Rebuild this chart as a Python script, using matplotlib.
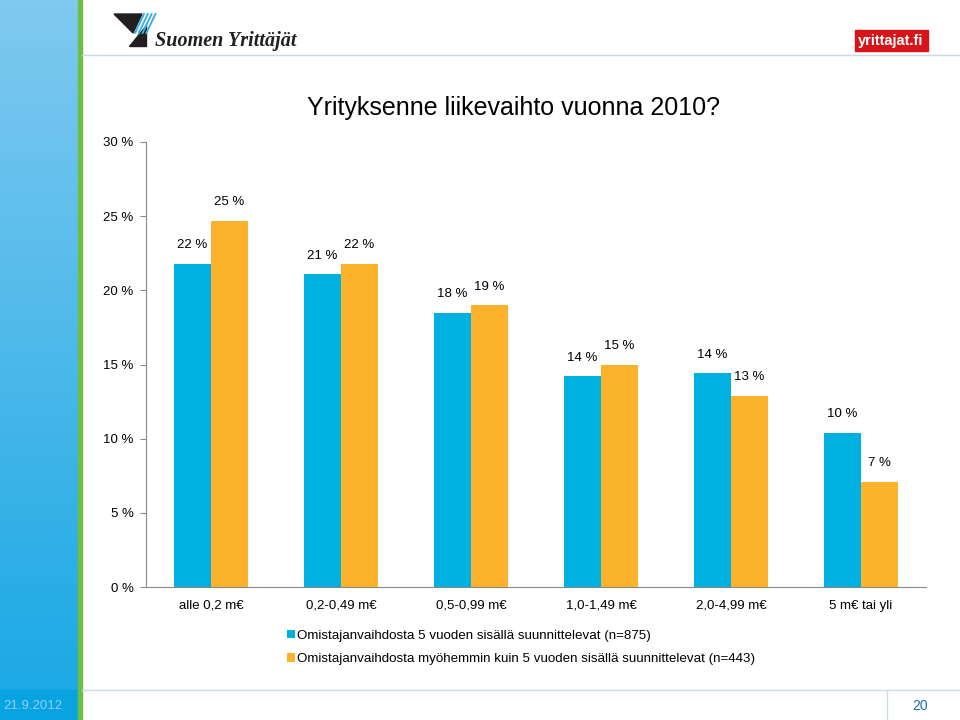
import numpy as np
import matplotlib.pyplot as plt
from matplotlib.patches import Rectangle, Polygon

categories = ["alle 0,2 m€", "0,2-0,49 m€", "0,5-0,99 m€", "1,0-1,49 m€", "2,0-4,99 m€", "5 m€ tai yli"]
within5 = [21.8, 21.1, 18.5, 14.2, 14.4, 10.4]
later = [24.7, 21.8, 19.0, 15.0, 12.9, 7.1]
labels5 = ["22 %", "21 %", "18 %", "14 %", "14 %", "10 %"]
labels_later = ["25 %", "22 %", "19 %", "15 %", "13 %", "7 %"]
series_names = ["Omistajanvaihdosta 5 vuoden sisällä suunnittelevat (n=875)",
                "Omistajanvaihdosta myöhemmin kuin 5 vuoden sisällä suunnittelevat (n=443)"]

blue = "#00B0E0"
orange = "#FDB22B"

plt.rcParams['font.family'] = ['Liberation Sans', 'DejaVu Sans']

fig = plt.figure(figsize=(9.6, 7.2), dpi=100, facecolor='white')

# slide decoration, drawn in pixel coords
bg = fig.add_axes([0, 0, 1, 1], zorder=0)
bg.set_xlim(0, 960)
bg.set_ylim(720, 0)
bg.axis('off')
grad = np.linspace(0, 1, 256).reshape(-1, 1)
bg.imshow(grad, extent=(0, 78, 690, 0), aspect='auto',
          cmap=plt.matplotlib.colors.LinearSegmentedColormap.from_list('s', ["#80C9F0", "#1CA9E5"]))
bg.add_patch(Rectangle((0, 690), 78, 30, color="#0AA3E2"))
bg.add_patch(Rectangle((78, 0), 4, 720, color="#6CBE45"))
bg.plot([82, 960], [55, 55], color="#C8D8E4", lw=1)
bg.plot([82, 960], [690, 690], color="#C8DEE2", lw=1)
bg.plot([887, 887], [690, 720], color="#C8DEE2", lw=1)
bg.text(3, 706, "21.9.2012", color="#8FD0F2", fontsize=9.5, va='center', ha='left')
bg.text(920, 706, "20", color="#1F6FA8", fontsize=10, va='center', ha='center')

# logos
bg.add_patch(Polygon([(114, 14), (142, 14), (133, 33)], color="#231F20"))
bg.add_patch(Polygon([(129, 46), (146, 46), (146, 25)], color="#231F20"))
for i in range(4):
    bg.plot([144 + i * 3.8, 135 + i * 3.8], [14, 33], color="#3BB0E0", lw=1.4)
bg.text(155, 46, "Suomen Yrittäjät", family='Liberation Serif', style='italic', weight='bold',
        fontsize=14.5, color="#231F20", va='baseline', ha='left')
bg.add_patch(Rectangle((855, 30), 73, 21, color="#D7141A"))
bg.text(891, 40.5, "yrittajat.fi", color='white', weight='bold', fontsize=10.5, va='center', ha='center')

fig.text(0.535, 1 - 108 / 720, "Yrityksenne liikevaihto vuonna 2010?", fontsize=18, ha='center', va='center')

ax = fig.add_axes([146 / 960, 1 - 587 / 720, 780 / 960, 445 / 720], zorder=1)
ax.patch.set_alpha(0)
x = np.arange(len(categories))
w = 0.285
b1 = ax.bar(x - w / 2, within5, w, color=blue, label=series_names[0])
b2 = ax.bar(x + w / 2, later, w, color=orange, label=series_names[1])
for rect, lab in zip(b1, labels5):
    ax.annotate(lab, (rect.get_x() + rect.get_width() / 2, rect.get_height()),
                xytext=(0, 9), textcoords='offset points', ha='center', va='bottom', fontsize=9.5)
for rect, lab in zip(b2, labels_later):
    ax.annotate(lab, (rect.get_x() + rect.get_width() / 2, rect.get_height()),
                xytext=(0, 9), textcoords='offset points', ha='center', va='bottom', fontsize=9.5)

ax.set_xlim(-0.5, len(categories) - 0.5)
ax.set_ylim(0, 30)
ax.set_yticks(range(0, 31, 5))
ax.set_yticklabels([f"{v} %" for v in range(0, 31, 5)], fontsize=9.5)
ax.set_xticks(x)
ax.set_xticklabels(categories, fontsize=9.5)
ax.tick_params(axis='x', length=0, pad=9)
ax.tick_params(axis='y', length=4, color="#888888", pad=5)
for s in ['top', 'right']:
    ax.spines[s].set_visible(False)
for s in ['left', 'bottom']:
    ax.spines[s].set_color("#888888")

fig.legend(handles=[b1, b2], labels=series_names, loc='upper left',
           bbox_to_anchor=(280 / 960, 1 - 623 / 720), frameon=False, fontsize=9.6,
           handlelength=0.6, handleheight=0.6, handletextpad=0.2, labelspacing=0.85,
           borderpad=0)

fig.savefig("out.png", dpi=100)
